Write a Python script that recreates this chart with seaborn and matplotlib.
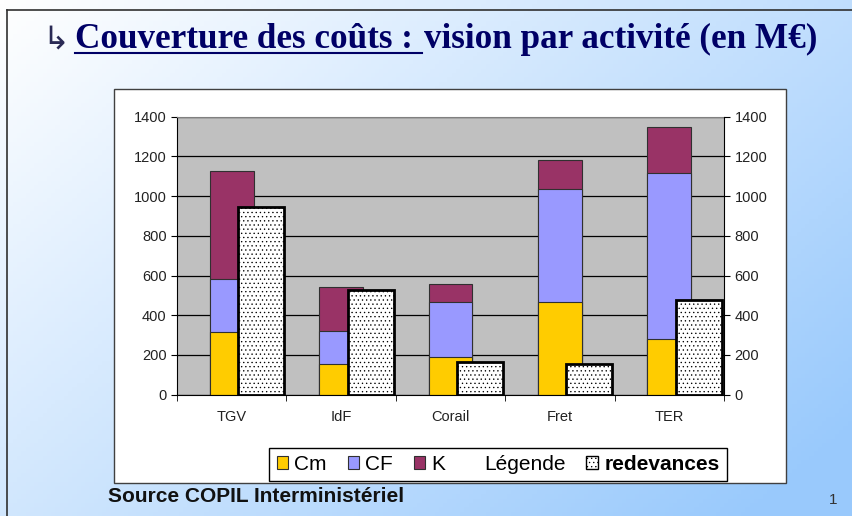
import numpy as np
import pandas as pd
import seaborn as sns
import matplotlib.pyplot as plt
from matplotlib.patches import Patch, Rectangle
from matplotlib.lines import Line2D

# Data (M€)
activites = ["TGV", "IdF", "Corail", "Fret", "TER"]
cm = [314, 154, 188, 468, 279]
cf = [268, 168, 280, 566, 839]
k = [544, 222, 89, 148, 232]
redevances = [943, 527, 164, 153, 477]
yticks = [0, 200, 400, 600, 800, 1000, 1200, 1400]

col_cm = "#FFCC00"
col_cf = "#9999FF"
col_k = "#993366"

df = pd.DataFrame({"activite": activites, "cm": cm, "cf": cf, "k": k,
                   "redevances": redevances})
df["haut_cf"] = df["cm"] + df["cf"]
df["haut_k"] = df["haut_cf"] + df["k"]

plt.rcParams["font.family"] = ["Liberation Sans", "DejaVu Sans"]
plt.rcParams["hatch.linewidth"] = 0.45

W, H = 852, 516
fig = plt.figure(figsize=(W / 100, H / 100), dpi=100)

# slide background gradient
bg = fig.add_axes([0, 0, 1, 1], zorder=-10)
xx, yy = np.meshgrid(np.linspace(0, 1, 200), np.linspace(0, 1, 120))
t = np.clip(0.62 * xx + 0.45 * yy, 0, 1)[..., None]
blue = np.array([0.60, 0.79, 0.99])
img = (1 - t) * np.ones(3) + t * blue
bg.imshow(img, aspect="auto", extent=[0, 1, 0, 1], origin="upper")
bg.set_xlim(0, 1)
bg.set_ylim(0, 1)
bg.axis("off")

# slide frame
fig.add_artist(Line2D([7 / W, 1], [1 - 10 / H, 1 - 10 / H], color="#303030", lw=1.2,
                      transform=fig.transFigure))
fig.add_artist(Line2D([7 / W, 7 / W], [0, 1 - 10 / H], color="#303030", lw=1.2,
                      transform=fig.transFigure))

# white chart box
fig.add_artist(Rectangle((114 / W, 1 - 483 / H), (786 - 114) / W, (483 - 89) / H,
                         facecolor="white", edgecolor="#404040", lw=1,
                         transform=fig.transFigure, zorder=0))

ax = fig.add_axes([177 / W, 1 - 394.7 / H, (724 - 177) / W, (394.7 - 116.7) / H], zorder=2)
ax.set_facecolor("#C0C0C0")

# stacked bars: draw totals first, lower segments on top
for col, c in [("haut_k", col_k), ("haut_cf", col_cf), ("cm", col_cm)]:
    sns.barplot(data=df, x="activite", y=col, color=c, width=0.4, saturation=1,
                edgecolor="#303030", linewidth=0.8, ax=ax)

ax2 = ax.twinx()
sns.barplot(data=df, x="activite", y="redevances", color="white", width=0.42,
            saturation=1, edgecolor="black", linewidth=2, hatch="....", ax=ax2)
for p in ax2.patches:
    p.set_x(p.get_x() + 0.27)

for a in (ax, ax2):
    a.set_ylim(0, 1400)
    a.set_xlim(-0.5, 4.5)
    a.set_yticks(yticks)
    a.set_xlabel("")
    a.set_ylabel("")

ax.yaxis.grid(True, color="black", lw=0.9)
ax.set_axisbelow(True)
ax.set_xticks(np.arange(-0.5, 5, 1), minor=True)
ax.tick_params(axis="x", which="major", length=0, pad=11, labelsize=10.5, labelcolor="#222222")
ax.tick_params(axis="x", which="minor", length=4, direction="out", color="black")
ax.tick_params(axis="y", length=4, direction="out", pad=3.5, labelsize=10.5, labelcolor="#222222")
ax2.tick_params(axis="y", length=4, direction="out", pad=3.5, labelsize=10.5, labelcolor="#222222")

ax.spines["left"].set_color("black")
ax.spines["bottom"].set_color("black")
ax.spines["top"].set_color("#808080")
ax.spines["right"].set_visible(False)
for s in ("left", "top", "bottom"):
    ax2.spines[s].set_visible(False)
ax2.spines["right"].set_color("black")

# legend
handles = [
    Patch(facecolor=col_cm, edgecolor="#303030", lw=0.8),
    Patch(facecolor=col_cf, edgecolor="#303030", lw=0.8),
    Patch(facecolor=col_k, edgecolor="#303030", lw=0.8),
    Patch(facecolor="none", edgecolor="none"),
    Patch(facecolor="white", edgecolor="black", lw=1, hatch="...."),
]
labels = ["Cm", "CF", "K", "Légende", "redevances"]
leg = fig.legend(handles, labels, ncol=5, loc="center",
                 bbox_to_anchor=(498 / W, 1 - 464.5 / H), fontsize=15,
                 frameon=True, fancybox=False, framealpha=1, edgecolor="black",
                 handlelength=0.55, handleheight=0.55, handletextpad=0.3,
                 columnspacing=1.0, borderpad=0.35)
leg.get_frame().set_linewidth(1)
leg.get_texts()[-1].set_fontweight("bold")

# title with underlined first part
fig.text(42 / W, 1 - 48 / H, "↳", fontsize=23, color="#2a2a55", va="baseline",
         family=["DejaVu Sans"])
renderer = fig.canvas.get_renderer()
t1 = fig.text(75 / W, 1 - 48 / H, "Couverture des coûts :", fontsize=25.3, fontweight="bold",
              color="#000066", va="baseline", family=["Liberation Serif", "DejaVu Serif"])
bb = t1.get_window_extent(renderer)
x_end = bb.x1 / W + 9 / W
fig.text(x_end + 2 / W, 1 - 48 / H, "vision par activité (en M€)", fontsize=25.3,
         fontweight="bold", color="#000066", va="baseline",
         family=["Liberation Serif", "DejaVu Serif"])
fig.add_artist(Line2D([75 / W, x_end], [1 - 53 / H, 1 - 53 / H], color="#000066", lw=1.5,
                      transform=fig.transFigure))

fig.text(108 / W, 1 - 497 / H, "Source COPIL Interministériel", fontsize=15,
         fontweight="bold", color="#111111", va="center")
fig.text(833 / W, 1 - 500 / H, "1", fontsize=11, color="#333333", va="center", ha="center")

fig.savefig("out.png", dpi=100)
